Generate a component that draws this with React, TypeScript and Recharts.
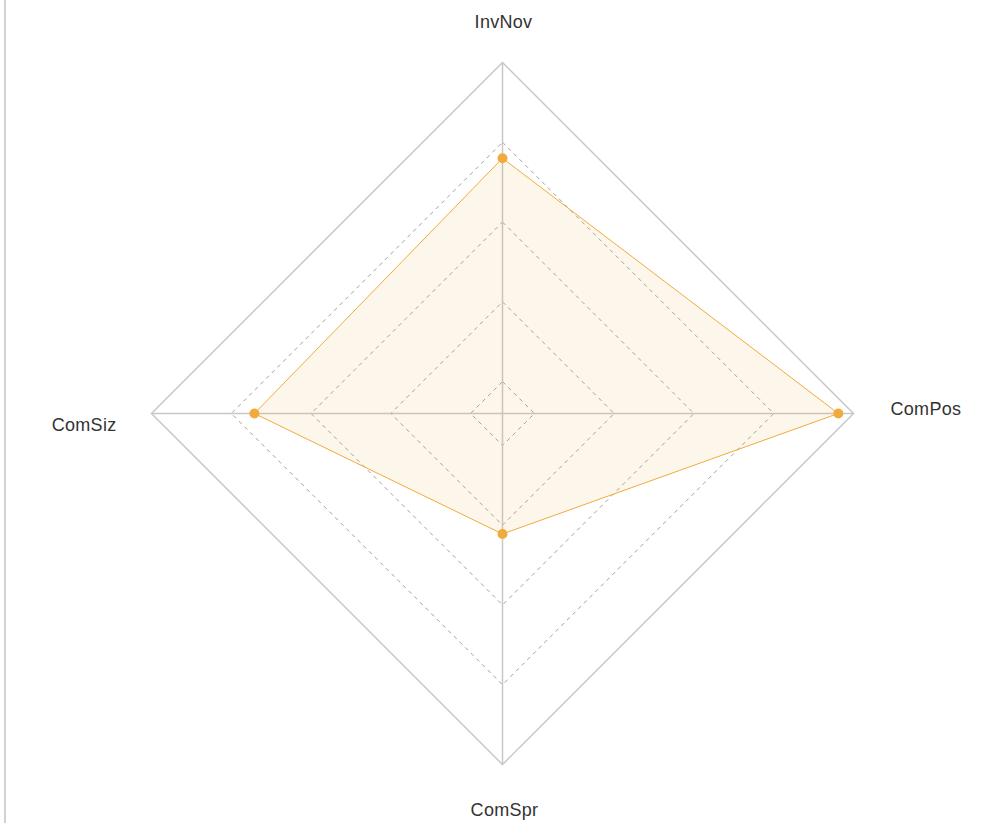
import React from "react";
import { RadarChart, Radar, PolarGrid, PolarAngleAxis, PolarRadiusAxis } from "recharts";

const categories = ["InvNov", "ComPos", "ComSpr", "ComSiz"];
const scores = [3.8, 4.81, 2.11, 3.71];
const innerTicks = [1, 2, 3, 4];
const radiusDomain = [0.6, 5];

const data = categories.map((c, i) => ({ axis: c, value: scores[i] }));

const ORANGE = "#f0ab3c";
const CX = 502.5;
const CY = 413.5;
const OUTER_R = 351;

const AngleTick = (props: any) => {
  const { x, y, textAnchor, payload } = props;
  let dx = 0;
  let dy = 0;
  if (textAnchor === "start") {
    dx = 29;
    dy = 1.5;
  } else if (textAnchor === "end") {
    dx = -27;
    dy = 17;
  } else if (y < CY) {
    dx = 1;
    dy = -27;
  } else {
    dx = 2;
    dy = 43;
  }
  return (
    <text
      x={x + dx}
      y={y + dy}
      textAnchor={textAnchor}
      fill="#333"
      fontSize={18}
      letterSpacing={0.3}
      fontFamily="'Liberation Sans', Arial, Helvetica, sans-serif"
    >
      {payload.value}
    </text>
  );
};

export default function App() {
  return (
    <div style={{ position: "absolute", left: 0, top: 0, width: 987, height: 823, background: "#fff" }}>
      <div style={{ position: "absolute", left: 4, top: 0, width: 2, height: 823, background: "#d2d2d2" }} />
      <RadarChart
        width={987}
        height={823}
        data={data}
        cx={CX}
        cy={CY}
        outerRadius={OUTER_R}
        margin={{ top: 0, right: 0, bottom: 0, left: 0 }}
      >
        <PolarRadiusAxis
          angle={90}
          type="number"
          domain={radiusDomain}
          ticks={innerTicks}
          tick={false}
          axisLine={false}
        />
        <PolarGrid
          gridType="polygon"
          radialLines={false}
          stroke="#a0a0a0"
          strokeDasharray="4 4"
        />
        <PolarGrid
          gridType="polygon"
          polarRadius={[OUTER_R]}
          radialLines={true}
          stroke="#c8c8c8"
          strokeWidth={1.5}
        />
        <PolarAngleAxis
          dataKey="axis"
          axisLine={false}
          tickLine={false}
          tick={(p: any) => <AngleTick {...p} />}
        />
        <Radar
          dataKey="value"
          stroke={ORANGE}
          strokeWidth={1}
          fill={ORANGE}
          fillOpacity={0.1}
          dot={{ r: 5, fill: ORANGE, stroke: "none", fillOpacity: 1 }}
          isAnimationActive={false}
        />
      </RadarChart>
    </div>
  );
}
